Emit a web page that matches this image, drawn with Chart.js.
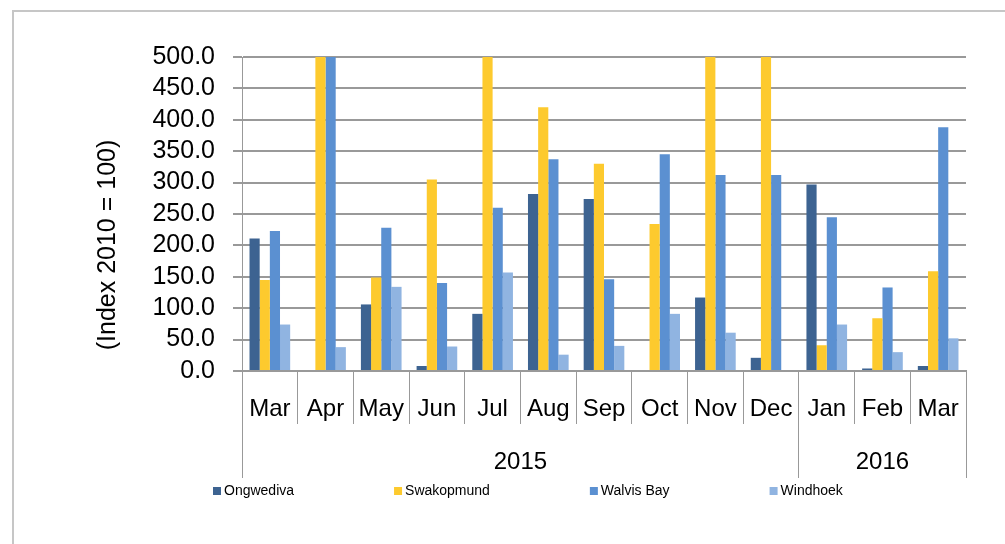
<!DOCTYPE html>
<html>
<head>
<meta charset="utf-8">
<script src="https://cdn.jsdelivr.net/npm/chart.js@4"></script>
<style>
  body { margin: 0; background: #fff; }
  #wrap { position: relative; width: 1005px; height: 544px; overflow: hidden; }
  #frame { position: absolute; left: 12px; top: 10px; width: 1100px; height: 600px;
           border-left: 2px solid #c6c6c6; border-top: 2px solid #c6c6c6; pointer-events: none; }
</style>
</head>
<body>
<div id="wrap">
  <canvas id="price_chart" width="1005" height="544"></canvas>
  <div id="frame"></div>
</div>
<script>
// Data
const months = ['Mar', 'Apr', 'May', 'Jun', 'Jul', 'Aug', 'Sep', 'Oct', 'Nov', 'Dec', 'Jan', 'Feb', 'Mar'];
const years = ['2015', '2016'];
const yearSpans = [10, 3]; // number of months under each year

const ongwediva  = [211,   0, 106,   8,  91, 282, 274,   0, 117,  21, 297,   4,   8];
const swakopmund = [145, 500, 149, 305, 500, 420, 330, 234, 500, 500,  41,  84, 159];
const walvisBay  = [223, 500, 228, 140, 260, 337, 146, 345, 312, 312, 245, 133, 388];
const windhoek   = [ 74,  38, 134,  39, 157,  26,  40,  91,  61,   0,  74,  30,  52];

const seriesNames = ['Ongwediva', 'Swakopmund', 'Walvis Bay', 'Windhoek'];
const seriesColors = ['#3d6391', '#fdca2e', '#5b90d1', '#90b4e1'];
const yTitle = '(Index 2010 = 100)';

// year row: tick at every boundary and in the middle of each year
const yearCenters = [];
const yearBounds = [-0.5];
let start = 0;
yearSpans.forEach(span => {
    yearCenters.push(start + (span - 1) / 2);
    start += span;
    yearBounds.push(start - 0.5);
});

Chart.defaults.font.family = '"Liberation Sans", Arial, sans-serif';
Chart.defaults.color = '#000';

const gridGray = '#999';

// y axis title and legend, drawn by hand
const extras = {
    id: 'extras',
    afterDraw(chart) {
        const ctx = chart.ctx;
        ctx.save();
        ctx.fillStyle = '#000';
        ctx.font = '25px "Liberation Sans", Arial, sans-serif';
        ctx.textAlign = 'center';
        ctx.textBaseline = 'middle';
        ctx.translate(108, 245);
        ctx.rotate(-Math.PI / 2);
        ctx.fillText(yTitle, 0, 0);
        ctx.restore();

        ctx.save();
        ctx.font = '14px "Liberation Sans", Arial, sans-serif';
        ctx.textBaseline = 'middle';
        ctx.textAlign = 'left';
        let x = 213;
        const y = 491;
        chart.data.datasets.forEach(ds => {
            ctx.fillStyle = ds.backgroundColor;
            ctx.fillRect(x, y - 4, 8, 8);
            ctx.fillStyle = '#000';
            ctx.fillText(ds.label, x + 11, y);
            x += 11 + ctx.measureText(ds.label).width + 100;
        });
        ctx.restore();
    }
};

function initializeChart() {
    const ctx = document.getElementById('price_chart').getContext('2d');
    const seriesData = [ongwediva, swakopmund, walvisBay, windhoek];

    new Chart(ctx, {
        type: 'bar',
        data: {
            labels: months,
            datasets: seriesNames.map((name, i) => ({
                label: name,
                data: seriesData[i],
                backgroundColor: seriesColors[i],
                borderWidth: 0,
                categoryPercentage: 0.73,
                barPercentage: 1.0
            }))
        },
        options: {
            responsive: false,
            animation: false,
            layout: { padding: { left: 0, top: 57, right: 39, bottom: 66 } },
            scales: {
                x: {
                    weight: 0,
                    grid: {
                        offset: true,
                        drawOnChartArea: false,
                        color: gridGray,
                        lineWidth: 1,
                        tickLength: 53
                    },
                    border: { display: true, color: gridGray, width: 2 },
                    ticks: {
                        font: { size: 24 },
                        padding: -29,
                        maxRotation: 0,
                        minRotation: 0,
                        autoSkip: false
                    },
                    afterFit(scale) { scale.height = 53; }
                },
                x2: {
                    type: 'linear',
                    position: 'bottom',
                    weight: 1,
                    min: -0.5,
                    max: 12.5,
                    offset: false,
                    bounds: 'data',
                    afterBuildTicks(scale) {
                        scale.ticks = yearBounds.concat(yearCenters)
                            .sort((a, b) => a - b)
                            .map(v => ({ value: v }));
                    },
                    grid: {
                        offset: false,
                        drawOnChartArea: false,
                        tickLength: 54,
                        lineWidth: 1,
                        color: c => (c.tick && yearBounds.includes(c.tick.value)) ? gridGray : 'rgba(0,0,0,0)'
                    },
                    border: { display: false },
                    ticks: {
                        font: { size: 24 },
                        padding: -30,
                        maxRotation: 0,
                        autoSkip: false,
                        callback: v => {
                            const k = yearCenters.indexOf(v);
                            return k >= 0 ? years[k] : '';
                        }
                    },
                    afterFit(scale) { scale.height = 54; }
                },
                y: {
                    min: 0,
                    max: 500,
                    grid: { color: gridGray, lineWidth: 2, tickLength: 9 },
                    border: { display: true, color: gridGray, width: 1 },
                    ticks: {
                        stepSize: 50,
                        autoSkip: false,
                        font: { size: 25 },
                        padding: 18,
                        callback: v => v.toFixed(1)
                    },
                    afterFit(scale) { scale.width = 242; }
                }
            },
            plugins: {
                legend: { display: false },
                tooltip: { enabled: false }
            }
        },
        plugins: [extras]
    });
}

document.addEventListener('DOMContentLoaded', initializeChart);
</script>
</body>
</html>
